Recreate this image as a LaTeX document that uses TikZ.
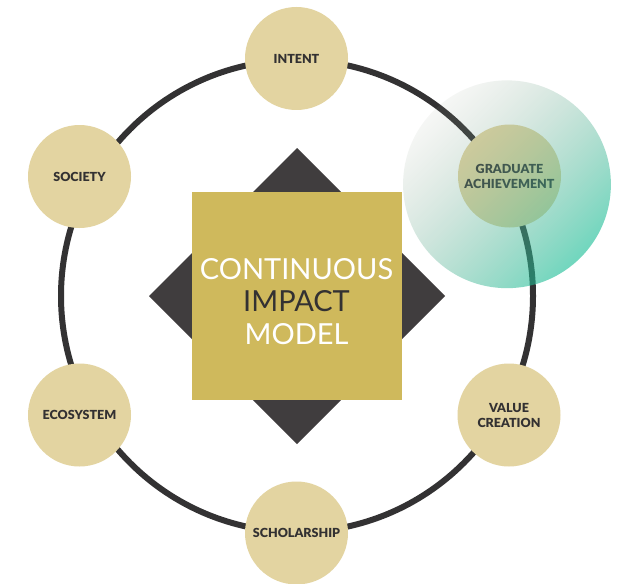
\documentclass[tikz,border=0pt]{standalone}
\usepackage{fontspec}
\usetikzlibrary{fadings}
\setmainfont{Lato}
\newfontfamily\lblfont{Lato Black}
\definecolor{tan}{HTML}{E3D4A1}
\definecolor{gold}{HTML}{CFB95C}
\definecolor{dia}{HTML}{403D3E}
\definecolor{ringc}{HTML}{333233}
\definecolor{lbl}{HTML}{333132}
\definecolor{glowA}{RGB}{150,160,140}
\definecolor{glowM}{RGB}{115,150,118}
\definecolor{glowB}{RGB}{25,190,150}
\tikzfading[name=glowfade, top color=transparent!92, middle color=transparent!62, bottom color=transparent!38]
\tikzset{
  circ/.style={circle, fill=tan, minimum size=103pt, inner sep=0pt, align=center,
    font=\lblfont\fontsize{12.5}{15}\selectfont, text=lbl},
  ringline/.style={draw=ringc, line width=6pt},
  diamondshape/.style={fill=dia},
  goldsq/.style={fill=gold},
  title/.style={align=center, font=\fontsize{29}{32.5}\selectfont, inner sep=0pt},
  glow/.style={top color=glowA, middle color=glowM, bottom color=glowB, shading angle=45,
    path fading=glowfade, fading angle=45, draw=none}
}
\begin{document}
\begin{tikzpicture}[x=1pt,y=-1pt]
\fill[white] (0,0) rectangle (623,583);
\useasboundingbox (0,0) rectangle (623,583);
\coordinate (c) at (297,296);
\draw[ringline] (c) circle[radius=236pt];
\fill[diamondshape] (297,148) -- (445,296) -- (297,444) -- (149,296) -- cycle;
\fill[goldsq] (192,192) rectangle (402,400);
\node[title] (ttl) at (296.5,301.5) {{\color{white}CONTINUOUS}\\{\color{lbl}IMPACT}\\{\color{white}MODEL}};
\node[circ] (intent) at (296.5,58.5) {INTENT};
\node[circ] (society) at (79.5,176.5) {SOCIETY};
\node[circ] (grad) at (509.5,176) {GRADUATE\\ACHIEVEMENT};
\node[circ] (eco) at (79.5,415) {ECOSYSTEM};
\node[circ] (value) at (509,415) {VALUE\\CREATION};
\node[circ] (schol) at (296.5,533) {SCHOLARSHIP};
\shade[glow] (507,184) circle[radius=104pt];
\end{tikzpicture}
\end{document}
